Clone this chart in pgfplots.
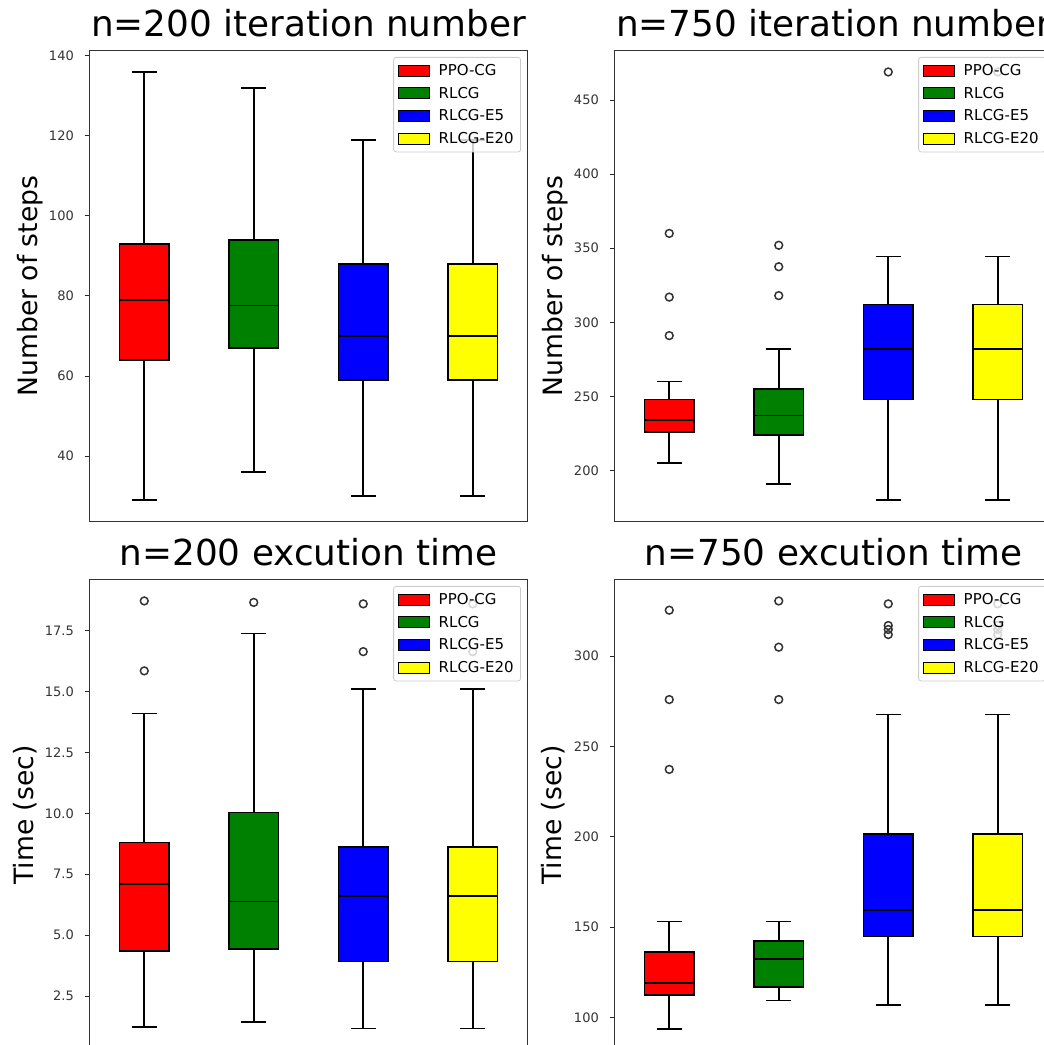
\documentclass[border=0pt]{standalone}
\usepackage{fontspec}
\setmainfont{DejaVu Sans}
\usepackage{pgfplots}
\pgfplotsset{compat=1.18}
\usepgfplotslibrary{statistics}

\definecolor{cPPO}{HTML}{FF0000}
\definecolor{cRLCG}{HTML}{008000}
\definecolor{cEfive}{HTML}{0000FF}
\definecolor{cEtwenty}{HTML}{FFFF00}

\pgfplotsset{
  boxpanel/.style={
    scale only axis, width=438pt, height=471pt,
    anchor=south west,
    xmin=0.5, xmax=4.5, xtick=\empty,
    ytick pos=left, tick align=outside,
    major tick length=4.5pt,
    every tick/.style={black!85, line width=1pt},
    axis line style={black!80, line width=1.1pt},
    /pgf/number format/assume math mode=true,
    yticklabel style={font=\fontsize{13}{15}\selectfont, text=black!80, inner sep=0pt, xshift=-11pt},
    title style={font=\fontsize{35.8}{42}\selectfont, at={(axis description cs:0.5,1)}, anchor=base, yshift=8pt, inner sep=0pt},
    ylabel style={font=\fontsize{26.6}{30}\selectfont, anchor=base, inner sep=0pt},
    legend style={at={(rel axis cs:1,1)}, anchor=north east, xshift=-6.5pt, yshift=-6.5pt,
      draw=black!20, line width=0.8pt, rounded corners=2.5pt, fill=white, fill opacity=0.8,
      text opacity=1, draw opacity=1,
      font=\fontsize{15}{17}\selectfont,
      inner xsep=4.5pt, inner ysep=4.5pt, row sep=5pt, column sep=6pt,
      nodes={inner sep=2.5pt}},
    legend cell align=left,
    legend image code/.code={\draw[#1, sharp corners, draw=black, line width=1.1pt, fill opacity=1, draw opacity=1] (0pt,-5.5pt) rectangle (31pt,5.5pt);},
    boxplot/draw direction=y,
    boxplot/every median/.style={line width=1.7pt},
  },
  bx/.style={draw=black, line width=1.6pt, fill=#1, mark=o,
    mark size=3.9pt, mark options={draw=black!80, fill=none, line width=1.5pt}},
}

\newcommand{\methodlegend}{%
  \addlegendimage{fill=cPPO}\addlegendentry{PPO-CG}
  \addlegendimage{fill=cRLCG}\addlegendentry{RLCG}
  \addlegendimage{fill=cEfive}\addlegendentry{RLCG-E5}
  \addlegendimage{fill=cEtwenty}\addlegendentry{RLCG-E20}
}

\begin{document}
\begin{tikzpicture}

% n=200, iteration number
\begin{axis}[boxpanel, at={(89.5pt,523.5pt)},
  ymin=23.65, ymax=141.35, ytick={40,60,80,100,120,140},
  title={n=200 iteration number}, ylabel={Number of steps},
  ylabel style={at={(axis description cs:-0.118,0.5)}}]
\methodlegend
\addplot[bx=cPPO, boxplot prepared={draw position=1, lower whisker=29, lower quartile=64,
  median=79, upper quartile=93, upper whisker=136, box extend=0.45, whisker extend=0.225}]
  coordinates {};
\addplot[bx=cRLCG, boxplot prepared={draw position=2, lower whisker=36, lower quartile=67,
  median=77.6, upper quartile=94, upper whisker=132, box extend=0.45, whisker extend=0.225}]
  coordinates {};
\addplot[bx=cEfive, boxplot prepared={draw position=3, lower whisker=30, lower quartile=59,
  median=70, upper quartile=88, upper whisker=119, box extend=0.45, whisker extend=0.225}]
  coordinates {};
\addplot[bx=cEtwenty, boxplot prepared={draw position=4, lower whisker=30, lower quartile=59,
  median=70, upper quartile=88, upper whisker=119, box extend=0.45, whisker extend=0.225}]
  coordinates {};
\end{axis}

% n=750, iteration number
\begin{axis}[boxpanel, at={(614.5pt,523.5pt)},
  ymin=165.5, ymax=483.5, ytick={200,250,300,350,400,450},
  title={n=750 iteration number}, ylabel={Number of steps},
  ylabel style={at={(axis description cs:-0.118,0.5)}}]
\methodlegend
\addplot[bx=cPPO, boxplot prepared={draw position=1, lower whisker=205, lower quartile=226,
  median=234, upper quartile=248, upper whisker=260, box extend=0.45, whisker extend=0.225}]
  coordinates {(0,360) (0,317) (0,291)};
\addplot[bx=cRLCG, boxplot prepared={draw position=2, lower whisker=191, lower quartile=224,
  median=237, upper quartile=255, upper whisker=282, box extend=0.45, whisker extend=0.225}]
  coordinates {(0,352) (0,337.5) (0,318)};
\addplot[bx=cEfive, boxplot prepared={draw position=3, lower whisker=180, lower quartile=248,
  median=282, upper quartile=312, upper whisker=344.5, box extend=0.45, whisker extend=0.225}]
  coordinates {(0,469)};
\addplot[bx=cEtwenty, boxplot prepared={draw position=4, lower whisker=180, lower quartile=248,
  median=282, upper quartile=312, upper whisker=344.5, box extend=0.45, whisker extend=0.225}]
  coordinates {(0,469)};
\end{axis}

% n=200, execution time
\begin{axis}[boxpanel, at={(89.5pt,-5.5pt)},
  ymin=0.27, ymax=19.6, ytick={2.5,5,7.5,10,12.5,15,17.5},
  yticklabel style={/pgf/number format/fixed, /pgf/number format/fixed zerofill, /pgf/number format/precision=1},
  title={n=200 excution time}, ylabel={Time (sec)},
  ylabel style={at={(axis description cs:-0.127,0.5)}}]
\methodlegend
\addplot[bx=cPPO, boxplot prepared={draw position=1, lower whisker=1.24, lower quartile=4.35,
  median=7.1, upper quartile=8.8, upper whisker=14.1, box extend=0.45, whisker extend=0.225}]
  coordinates {(0,18.72) (0,15.85)};
\addplot[bx=cRLCG, boxplot prepared={draw position=2, lower whisker=1.43, lower quartile=4.43,
  median=6.38, upper quartile=10.03, upper whisker=17.38, box extend=0.45, whisker extend=0.225}]
  coordinates {(0,18.66)};
\addplot[bx=cEfive, boxplot prepared={draw position=3, lower whisker=1.17, lower quartile=3.93,
  median=6.61, upper quartile=8.62, upper whisker=15.11, box extend=0.45, whisker extend=0.225}]
  coordinates {(0,18.6) (0,16.64)};
\addplot[bx=cEtwenty, boxplot prepared={draw position=4, lower whisker=1.17, lower quartile=3.93,
  median=6.61, upper quartile=8.62, upper whisker=15.11, box extend=0.45, whisker extend=0.225}]
  coordinates {(0,18.6) (0,16.64)};
\end{axis}

% n=750, execution time
\begin{axis}[boxpanel, at={(614.5pt,-5.5pt)},
  ymin=81.6, ymax=342.5, ytick={100,150,200,250,300},
  title={n=750 excution time}, ylabel={Time (sec)},
  ylabel style={at={(axis description cs:-0.12,0.5)}}]
\methodlegend
\addplot[bx=cPPO, boxplot prepared={draw position=1, lower whisker=93.5, lower quartile=112.5,
  median=119, upper quartile=136.3, upper whisker=153, box extend=0.45, whisker extend=0.225}]
  coordinates {(0,325.5) (0,276) (0,237.3)};
\addplot[bx=cRLCG, boxplot prepared={draw position=2, lower whisker=109.2, lower quartile=116.8,
  median=132.3, upper quartile=142.3, upper whisker=153, box extend=0.45, whisker extend=0.225}]
  coordinates {(0,330.6) (0,305) (0,276)};
\addplot[bx=cEfive, boxplot prepared={draw position=3, lower whisker=106.8, lower quartile=144.8,
  median=159.6, upper quartile=201.5, upper whisker=267.7, box extend=0.45, whisker extend=0.225}]
  coordinates {(0,329) (0,317) (0,314.8) (0,312)};
\addplot[bx=cEtwenty, boxplot prepared={draw position=4, lower whisker=106.8, lower quartile=144.8,
  median=159.6, upper quartile=201.5, upper whisker=267.7, box extend=0.45, whisker extend=0.225}]
  coordinates {(0,329) (0,317) (0,314.8) (0,312)};
\end{axis}

\pgfresetboundingbox
\path[use as bounding box] (0pt,0pt) rectangle (1044pt,1045pt);
\end{tikzpicture}
\end{document}
